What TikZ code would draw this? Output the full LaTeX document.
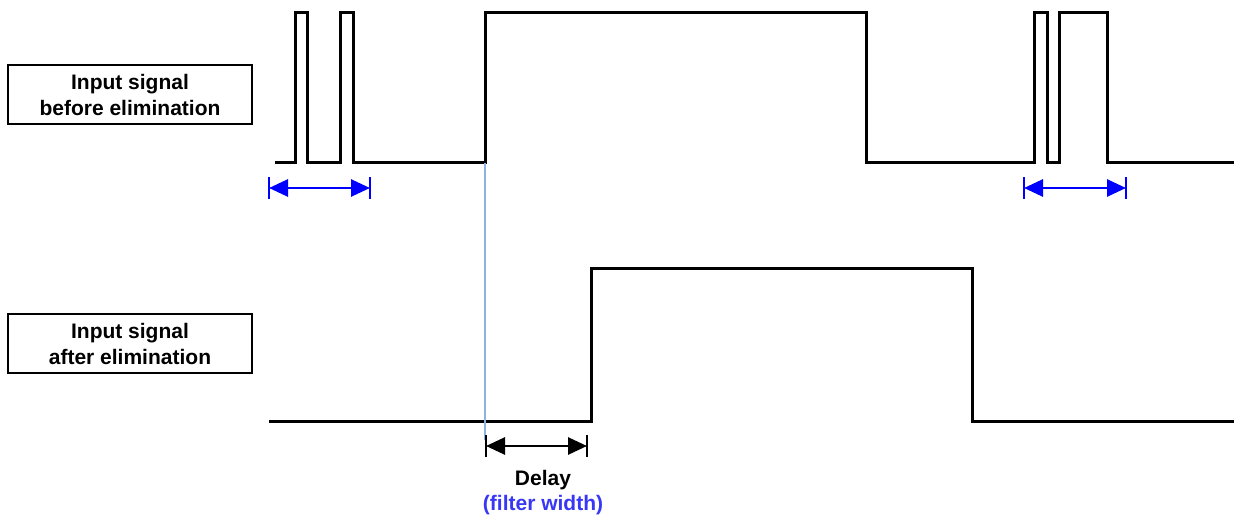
\documentclass[tikz,border=0pt]{standalone}
\usepackage{fontspec}
\setmainfont{Liberation Sans}
\usetikzlibrary{arrows.meta}
\definecolor{lblue}{RGB}{141,179,226}
\definecolor{tblue}{RGB}{55,55,245}
\begin{document}
\begin{tikzpicture}[x=1pt,y=-1pt,
  wave/.style={line width=3pt,line join=miter},
  labelbox/.style={draw,line width=2.6pt,minimum width=244pt,minimum height=59pt,inner sep=0pt,
    align=center,font=\fontsize{21}{26}\selectfont\bfseries},
  dimarrow/.style={line width=2.8pt,{Triangle[length=19pt,width=17pt]}-{Triangle[length=19pt,width=17pt]}},
  dimbar/.style={line width=2.8pt},
  txt/.style={font=\fontsize{21}{25}\selectfont\bfseries,inner sep=0pt}]
\useasboundingbox (0,0) rectangle (1236,518);
% label boxes
\node[labelbox] (boxA) at (130,94.5) {Input signal\\before elimination};
\node[labelbox] (boxB) at (130,343.5) {Input signal\\after elimination};
% input signal before elimination
\draw[wave] (275,163) -- (295,163) -- (295,13) -- (307,13) -- (307,163) -- (340,163) -- (340,13)
  -- (353,13) -- (353,163) -- (485,163) -- (485,13) -- (866,13) -- (866,163) -- (1034,163)
  -- (1034,13) -- (1047,13) -- (1047,163) -- (1059,163) -- (1059,13) -- (1107,13) -- (1107,163)
  -- (1234,163);
% input signal after elimination
\draw[wave] (269,421) -- (591,421) -- (591,269) -- (972,269) -- (972,421) -- (1234,421);
% light blue reference line
\coordinate (edge) at (485,163);
\coordinate (edgeLow) at (485,440);
\draw[lblue,line width=2.5pt] (edge) -- (edgeLow);
% blue glitch-width arrows
\coordinate (g1a) at (269,188); \coordinate (g1b) at (370,188);
\coordinate (g2a) at (1024,188); \coordinate (g2b) at (1126,188);
\draw[blue,dimbar] ([yshift=-11pt]g1a) -- ([yshift=11pt]g1a);
\draw[blue,dimbar] ([yshift=-11pt]g1b) -- ([yshift=11pt]g1b);
\draw[blue,dimarrow] (g1a) -- (g1b);
\draw[blue,dimbar] ([yshift=-11pt]g2a) -- ([yshift=11pt]g2a);
\draw[blue,dimbar] ([yshift=-11pt]g2b) -- ([yshift=11pt]g2b);
\draw[blue,dimarrow] (g2a) -- (g2b);
% delay arrow
\coordinate (d1) at (486,446); \coordinate (d2) at (587,446);
\draw[dimbar] ([yshift=-11pt]d1) -- ([yshift=11pt]d1);
\draw[dimbar] ([yshift=-11pt]d2) -- ([yshift=11pt]d2);
\draw[dimarrow] (d1) -- (d2);
\node[txt] (delay) at (543,480) {Delay};
\node[txt,text=tblue] (fw) at (543,505) {(filter width)};
\end{tikzpicture}
\end{document}
